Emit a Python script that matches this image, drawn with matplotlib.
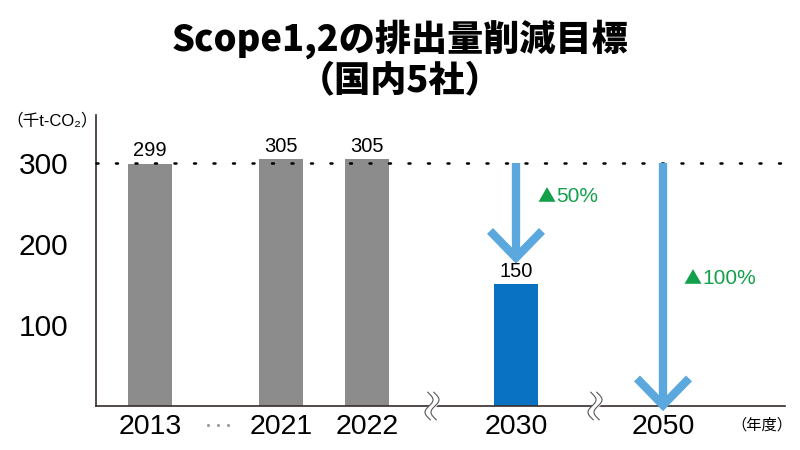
import numpy as np
import matplotlib
matplotlib.use('Agg')
from matplotlib import pyplot as plt

plt.rcParams['font.family'] = ['Liberation Sans', 'Noto Sans CJK JP', 'DejaVu Sans']
cjk = ['Noto Sans CJK JP', 'DejaVu Sans']

# data
years = ['2013', '2021', '2022', '2030', '2050']
values = [299, 305, 305, 150, 0]
bar_colors = ['#8c8c8c', '#8c8c8c', '#8c8c8c', '#0a72c3', None]
reductions = ['▲50%', '▲100%']
yticks = [100, 200, 300]
baseline = 300

# layout (x in pixel-like units from the y axis)
xpos = [54, 185, 271, 420, 567]
bar_w = 44
arrow_col = '#5aa8de'
green = '#13a04a'

fig = plt.figure(figsize=(8, 4.5), dpi=100)
ax = fig.add_axes([96/800, 1-406/450, 689/800, 291/450])
ax.set_xlim(0, 689)
ax.set_ylim(0, 359)

for x, v, c in zip(xpos, values, bar_colors):
	if c is None:
		continue
	ax.bar(x, v, width=bar_w, color=c, zorder=2)
	ax.text(x, v + 4, str(v), ha='center', va='bottom', fontsize=14.5, zorder=4)

# dotted 300 line
ax.plot([0, 700], [baseline, baseline], linestyle=(0, (0.8, 7)), color='black', lw=1.8,
	clip_on=False, zorder=3, dash_capstyle='round')

# arrows
def down_arrow(x, y0, y1):
	ax.plot([x, x], [y0, y1 + 2], color=arrow_col, lw=6, solid_capstyle='butt', zorder=3)
	ax.plot([x - 26, x, x + 26], [y1 + 33, y1, y1 + 33], color=arrow_col, lw=6,
		solid_joinstyle='miter', solid_capstyle='butt', zorder=3, clip_on=False)

down_arrow(xpos[3], baseline, 183)
down_arrow(xpos[4], baseline, 1)
for (lx, ly), lab in zip([(441, 258), (587, 157)], reductions):
	ax.text(lx, ly, lab[0], color=green, fontsize=13, ha='left', va='center', family=cjk)
	ax.text(lx + 19, ly, lab[1:], color=green, fontsize=15, ha='left', va='center')

# axes styling
for s in ['top', 'right']:
	ax.spines[s].set_visible(False)
ax.spines['left'].set_color('#3a2a2a')
ax.spines['bottom'].set_color('#3a2a2a')
ax.spines['left'].set_linewidth(1.2)
ax.spines['bottom'].set_linewidth(1.2)
ax.set_yticks(yticks)
ax.set_yticklabels([str(t) for t in yticks], fontsize=21.5)
ax.tick_params(axis='y', length=0, pad=20)
ax.set_xticks(xpos)
ax.set_xticklabels(years, fontsize=20.5)
ax.tick_params(axis='x', length=0, pad=6)

# break marks on x axis
t = np.linspace(-1, 1, 60)
for bx in [336, 499]:
	wx = 4 * np.sin(t * np.pi * 1.1)
	wy = t * 17
	ax.fill_betweenx(wy, bx - 3 + wx, bx + 3 + wx, color='white', zorder=5, clip_on=False)
	for off in [-3, 3]:
		ax.plot(bx + off + wx, wy, color='#555555', lw=0.8, zorder=6, clip_on=False)

# ellipsis between 2013 and 2021
ax.plot([112, 122, 132], [-24, -24, -24], linestyle='none', marker='o', ms=2.2,
	color='#999999', mec='none', clip_on=False)

fig.text(0.5, 0.912, 'Scope1,2の排出量削減目標', ha='center', va='center',
	fontsize=26, fontweight='heavy', family=cjk)
fig.text(0.5, 0.822, '（国内5社）', ha='center', va='center', fontsize=26,
	fontweight='heavy', family=cjk)
fig.text(52/800, 1-120/450, '（千t-CO₂）', ha='center', va='center', fontsize=12)
fig.text(762/800, 1-425/450, '（年度）', ha='center', va='center', fontsize=11)

fig.savefig('out.png', dpi=100)
